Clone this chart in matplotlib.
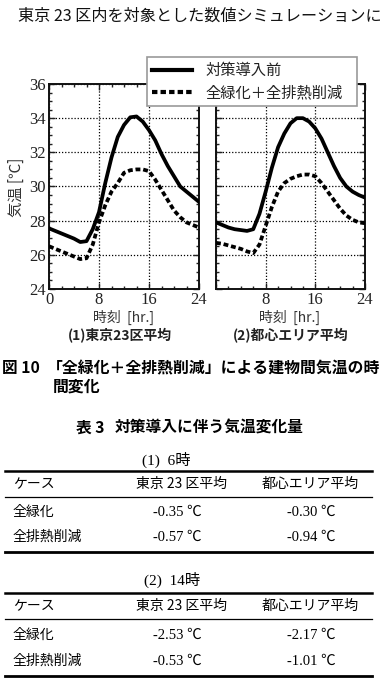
import matplotlib
matplotlib.use('Agg')
import matplotlib.pyplot as plt
from matplotlib.lines import Line2D
from matplotlib.ticker import MultipleLocator

plt.rcParams['font.family'] = ['Liberation Serif', 'Noto Sans CJK JP', 'DejaVu Sans']
CJK = ['Noto Sans CJK JP', 'DejaVu Sans']
SER = ['Liberation Serif', 'Noto Sans CJK JP', 'DejaVu Sans']

# ---------------- data ----------------
hours = list(range(0, 25))
ward_before = [27.55, 27.4, 27.25, 27.1, 26.95, 26.75, 26.8, 27.5, 28.5, 30.2, 31.7, 32.9,
               33.6, 34.05, 34.1, 33.8, 33.3, 32.7, 31.9, 31.2, 30.6, 30.0, 29.7, 29.4, 29.1]
ward_after = [26.5, 26.35, 26.2, 26.05, 25.9, 25.75, 25.8, 26.6, 27.9, 28.9, 29.7, 30.2,
              30.8, 30.95, 31.0, 31.0, 30.9, 30.4, 29.8, 29.2, 28.6, 28.2, 27.9, 27.75, 27.6]
center_before = [27.9, 27.75, 27.6, 27.5, 27.45, 27.4, 27.5, 28.4, 29.7, 31.1, 32.3, 33.1,
                 33.7, 34.0, 34.0, 33.8, 33.4, 32.8, 32.0, 31.2, 30.5, 30.0, 29.7, 29.5, 29.35]
center_after = [26.7, 26.65, 26.55, 26.45, 26.35, 26.2, 26.1, 26.6, 27.7, 28.8, 29.7, 30.2,
                30.45, 30.6, 30.7, 30.7, 30.6, 30.2, 29.7, 29.2, 28.7, 28.3, 28.05, 27.9, 27.85]
series_labels = ['対策導入前', '全緑化＋全排熱削減']
panel_titles = ['(1)東京23区平均', '(2)都心エリア平均']
xlabel = '時刻  [hr.]'
ylabel = '気温 [℃]'
x_ticks = [0, 8, 16, 24]
y_ticks = [24, 26, 28, 30, 32, 34, 36]

table_cols = ['ケース', '東京 23 区平均', '都心エリア平均']
table_cases = ['全緑化', '全排熱削減']
t6_titles = '(1)  6時'
t6_ward = ['-0.35 ℃', '-0.57 ℃']
t6_center = ['-0.30 ℃', '-0.94 ℃']
t14_titles = '(2)  14時'
t14_ward = ['-2.53 ℃', '-0.53 ℃']
t14_center = ['-2.17 ℃', '-1.01 ℃']

W, H = 386, 690
fig = plt.figure(figsize=(W / 100, H / 100), dpi=100)

bg = fig.add_axes([0, 0, 1, 1])
bg.set_xlim(0, W)
bg.set_ylim(H, 0)
bg.axis('off')

def fx(x):
    return x / W

def fy(y):
    return 1 - y / H

def make_ax(x0, x1, y0, y1):
    return fig.add_axes([fx(x0), fy(y1), fx(x1) - fx(x0), (y1 - y0) / H])

axL = make_ax(49, 199, 84, 289)
axR = make_ax(216, 365, 84, 289)

DASH = (0, (1.3, 0.75))
for ax, before, after in [(axL, ward_before, ward_after), (axR, center_before, center_after)]:
    ax.plot(hours, before, color='black', lw=2.7, solid_joinstyle='round', zorder=3)
    ax.plot(hours, after, color='black', lw=2.7, linestyle=DASH, zorder=3)
    ax.set_xlim(0, 24)
    ax.set_ylim(24, 36)
    ax.set_xticks(x_ticks)
    ax.set_yticks(y_ticks)
    ax.xaxis.set_minor_locator(MultipleLocator(2))
    ax.yaxis.set_minor_locator(MultipleLocator(0.5))
    ax.tick_params(which='both', direction='in', top=True, right=True, width=1.0,
                   colors='#222222', labelsize=12)
    ax.tick_params(axis='x', which='major', pad=2)
    ax.tick_params(axis='y', which='major', pad=2.5)
    ax.tick_params(which='major', length=4.5)
    ax.tick_params(which='minor', length=2.5)
    ax.grid(True, which='major', linestyle=(0, (1, 1.5)), color='black', lw=0.9)
    for s in ax.spines.values():
        s.set_linewidth(1.4)
        s.set_color('#111111')
    for lab in ax.get_xticklabels() + ax.get_yticklabels():
        lab.set_fontfamily(SER)

axR.set_yticklabels([])
axR.set_xticklabels(['', '8', '16', '24'])

# axis labels and panel titles
bg.text(16, 187, ylabel, rotation=90, ha='center', va='center', fontsize=11,
        family=CJK, color='#333333')
bg.text(124, 317, xlabel, ha='center', va='center', fontsize=10, family=CJK, color='#333333')
bg.text(290, 317, xlabel, ha='center', va='center', fontsize=10, family=CJK, color='#333333')
bg.text(120, 336, panel_titles[0], ha='center', va='center', fontsize=10, family=CJK,
        weight='bold', color='#222222')
bg.text(291, 336, panel_titles[1], ha='center', va='center', fontsize=10, family=CJK,
        weight='bold', color='#222222')

# legend
handles = [Line2D([], [], color='black', lw=3.0),
           Line2D([], [], color='black', lw=3.0, linestyle=(0, (1.3, 0.75)))]
leg = fig.legend(handles, series_labels, loc='upper left',
                 bbox_to_anchor=(fx(147), fy(103), fx(357) - fx(147), 46 / H),
                 mode='expand', prop={'family': CJK, 'size': 11},
                 frameon=True, fancybox=False, framealpha=1, edgecolor='#999999',
                 borderpad=0.35, labelspacing=0.3, handlelength=2.6, handletextpad=0.9,
                 borderaxespad=0)
leg.get_frame().set_linewidth(1.2)
for t in leg.get_texts():
    t.set_color('#222222')

# top text
bg.text(18, 16, '東京 23 区内を対象とした数値シミュレーションに', ha='left', va='center',
        fontsize=11.6, family=CJK, color='#111111')

# figure caption
bg.text(2, 368, '図 10', ha='left', va='center', fontsize=11.3, family=CJK, weight='bold')
bg.text(47, 368, '「全緑化＋全排熱削減」による建物間気温の時', ha='left', va='center',
        fontsize=11.4, family=CJK, weight='bold')
bg.text(53, 387, '間変化', ha='left', va='center', fontsize=11.4, family=CJK, weight='bold')
bg.text(76, 428, '表 3', ha='left', va='center', fontsize=11.3, family=CJK, weight='bold')
bg.text(115, 428, '対策導入に伴う気温変化量', ha='left', va='center', fontsize=11.3,
        family=CJK, weight='bold')

# tables
def draw_table(title, title_x, y_title, y_top, y_head, y_thin, y_r1, y_r2, y_bot, ward, center):
    bg.text(title_x, y_title, title, ha='center', va='center', fontsize=11, family=SER)
    bg.plot([5, 372], [y_top, y_top], color='black', lw=1.8)
    bg.plot([5, 372], [y_thin, y_thin], color='black', lw=0.9)
    bg.plot([5, 372], [y_bot, y_bot], color='black', lw=2.0)
    bg.text(13, y_head, table_cols[0], ha='left', va='center', fontsize=10, family=CJK)
    bg.text(182, y_head, table_cols[1], ha='center', va='center', fontsize=10, family=CJK)
    bg.text(310, y_head, table_cols[2], ha='center', va='center', fontsize=10, family=CJK)
    for i, yy in enumerate([y_r1, y_r2]):
        bg.text(13, yy, table_cases[i], ha='left', va='center', fontsize=10, family=CJK)
        bg.text(177, yy, ward[i], ha='center', va='center', fontsize=10.5, family=SER)
        bg.text(311, yy, center[i], ha='center', va='center', fontsize=10.5, family=SER)

draw_table(t6_titles, 166, 460, 471, 484, 497, 512, 537, 552, t6_ward, t6_center)
draw_table(t14_titles, 172, 580, 593, 606, 619, 635, 661, 676, t14_ward, t14_center)

fig.savefig('out.png', dpi=100)
